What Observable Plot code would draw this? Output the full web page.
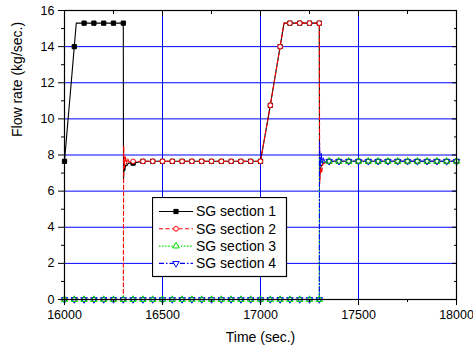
<!DOCTYPE html>
<html><head><meta charset="utf-8">
<script src="https://cdn.jsdelivr.net/npm/d3@7"></script>
<script src="https://cdn.jsdelivr.net/npm/@observablehq/plot@0.6"></script>
<style>
body{margin:0;background:#fff;}
#wrap{position:relative;width:473px;height:354px;}
#legend{position:absolute;left:152px;top:197px;}
</style></head><body><div id="wrap"></div>
<script>
// ---------- data ----------
const seriesNames = ["SG section 1", "SG section 2", "SG section 3", "SG section 4"];

const s1Time = [16000,16050,16060,16100,16150,16200,16250,16300,
  16301,16304,16308,16312,16318,16326,
  16350,16400,16450,16500,16550,16600,16650,16700,16750,16800,16850,16900,16950,
  17000,17050,17100,17120,17150,17200,17250,17300,
  17301,17305,17310,17318,17326,
  17350,17400,17450,17500,17550,17600,
  17650,17700,17750,17800,17850,17900,17950,18000];
const s1Flow = [7.65,14.0,15.3,15.3,15.3,15.3,15.3,15.3,
  6.65,7.35,7.15,7.45,7.4,7.55,
  7.55,7.65,7.65,7.65,7.65,7.65,7.65,7.65,7.65,7.65,7.65,7.65,7.65,
  7.65,10.75,14.0,15.3,15.3,15.3,15.3,15.3,
  6.6,7.2,7.4,7.5,7.6,
  7.65,7.65,7.65,7.65,7.65,7.65,
  7.65,7.65,7.65,7.65,7.65,7.65,7.65,7.65];

const s2Time = [16000,16050,16100,16150,16200,16250,16300,
  16302,16306,16311,16316,16322,16330,
  16350,16400,16450,16500,16550,16600,16650,16700,16750,16800,16850,16900,16950,17000,
  17050,17100,17120,17150,17200,17250,17300,
  17302,17307,17312,17318,17326,
  17350,17400,17450,17500,17550,17600,17650,17700,17750,17800,17850,17900,17950,18000];
const s2Flow = [0,0,0,0,0,0,0,
  8.5,7.3,7.95,7.5,7.8,7.6,
  7.65,7.65,7.65,7.65,7.65,7.65,7.65,7.65,7.65,7.65,7.65,7.65,7.65,7.65,
  10.75,14.0,15.3,15.3,15.3,15.3,15.3,
  6.4,7.3,7.0,7.5,7.55,
  7.65,7.65,7.65,7.65,7.65,7.65,7.65,7.65,7.65,7.65,7.65,7.65,7.65,7.65];

const s3Time = [16000,16050,16100,16150,16200,16250,16300,16350,16400,16450,16500,
  16550,16600,16650,16700,16750,16800,16850,16900,16950,17000,17050,17100,17150,
  17200,17250,17300,
  17301,17306,17312,17320,
  17350,17400,17450,17500,17550,17600,17650,17700,17750,17800,17850,17900,17950,18000];
const s3Flow = [0,0,0,0,0,0,0,0,0,0,0,
  0,0,0,0,0,0,0,0,0,0,0,0,0,
  0,0,0,
  7.9,7.5,7.7,7.6,
  7.65,7.65,7.65,7.65,7.65,7.65,7.65,7.65,7.65,7.65,7.65,7.65,7.65,7.65];

const s4Time = [16000,16050,16100,16150,16200,16250,16300,16350,16400,16450,16500,
  16550,16600,16650,16700,16750,16800,16850,16900,16950,17000,17050,17100,17150,
  17200,17250,17300,
  17301,17305,17310,17315,17321,17328,
  17350,17400,17450,17500,17550,17600,17650,17700,17750,17800,17850,17900,17950,18000];
const s4Flow = [0,0,0,0,0,0,0,0,0,0,0,
  0,0,0,0,0,0,0,0,0,0,0,0,0,
  0,0,0,
  8.7,7.35,8.1,7.5,7.85,7.6,
  7.65,7.65,7.65,7.65,7.65,7.65,7.65,7.65,7.65,7.65,7.65,7.65,7.65,7.65];

const xTicks = [16000, 16500, 17000, 17500, 18000];
const xMinor = [16250, 16750, 17250, 17750];
const yTicks = [0, 2, 4, 6, 8, 10, 12, 14, 16];
const yMinor = [1, 3, 5, 7, 9, 11, 13, 15];
const xGrid = [16500, 17000, 17500];
const yGrid = [2, 4, 6, 8, 10, 12, 14];
const xLabel = "Time (sec.)";
const yLabel = "Flow rate (kg/sec.)";

// ---------- rendering ----------
const sqrt3 = Math.sqrt(3);
const triangleDown = {
  draw(context, size) {
    const y = -Math.sqrt(size / (sqrt3 * 3));
    context.moveTo(0, -y * 2);
    context.lineTo(-sqrt3 * y, y);
    context.lineTo(sqrt3 * y, y);
    context.closePath();
  }
};

const toRows = (t, v) => t.map((time, i) => ({time, flow: v[i]}));
const series = [
  {rows: toRows(s1Time, s1Flow), stroke: "#000000", dash: null, symbol: d3.symbolSquare, fill: "#000000"},
  {rows: toRows(s2Time, s2Flow), stroke: "#ff0000", dash: "4,2.5", symbol: d3.symbolCircle, fill: "#ffffff"},
  {rows: toRows(s3Time, s3Flow), stroke: "#00dd00", dash: "1.5,1.6", symbol: d3.symbolTriangle, fill: "none"},
  {rows: toRows(s4Time, s4Flow), stroke: "#0000ff", dash: "5,2,1.5,2", symbol: triangleDown, fill: "none"}
];

const marks = [
  Plot.ruleX(xGrid, {stroke: "#0000ff", strokeWidth: 1}),
  Plot.ruleY(yGrid, {stroke: "#0000ff", strokeWidth: 1})
];
series.forEach(s => {
  marks.push(Plot.line(s.rows, {x: "time", y: "flow", stroke: s.stroke, strokeWidth: 1.1, strokeDasharray: s.dash}));
});
[0, 1, 3, 2].forEach(i => {
  const s = series[i];
  marks.push(Plot.dot(s.rows.filter(d => d.time % 50 === 0), {
    x: "time", y: "flow", symbol: s.symbol, r: i === 1 ? 2.3 : 2.4, stroke: s.stroke, fill: s.fill, strokeWidth: 1
  }));
});
marks.push(
  Plot.axisX({ticks: xTicks, tickSize: 6, tickPadding: 5, tickFormat: d3.format("d"), label: null}),
  Plot.axisX({ticks: xMinor, tickSize: 3, text: null, label: null}),
  Plot.axisX({anchor: "top", ticks: xTicks, tickSize: -5, text: null, label: null}),
  Plot.axisX({anchor: "top", ticks: xMinor, tickSize: -3, text: null, label: null}),
  Plot.axisY({ticks: yTicks, tickSize: 6, tickPadding: 4, label: null}),
  Plot.axisY({ticks: yMinor, tickSize: 3, text: null, label: null}),
  Plot.axisY({anchor: "right", ticks: yTicks, tickSize: -5, text: null, label: null}),
  Plot.axisY({anchor: "right", ticks: yMinor, tickSize: -3, text: null, label: null}),
  Plot.frame({stroke: "#000", strokeWidth: 1.2}),
  Plot.text([xLabel], {frameAnchor: "bottom", dy: 38, fontSize: 14, lineAnchor: "middle", fill: "#000"}),
  Plot.text([yLabel], {frameAnchor: "left", dx: -47, dy: -18, rotate: -90, fontSize: 14, lineAnchor: "middle", fill: "#000"})
);

const chart = Plot.plot({
  width: 473,
  height: 354,
  marginLeft: 64,
  marginRight: 17,
  marginTop: 10,
  marginBottom: 55,
  x: {domain: [16000, 18000]},
  y: {domain: [0, 16]},
  style: {fontFamily: "'Liberation Sans', Arial, sans-serif", fontSize: "12.5px", background: "#fff", color: "#000"},
  marks
});
const wrap = document.getElementById("wrap");
wrap.appendChild(chart);

// legend box (drawn inside the plot area, as in the reference)
const lg = d3.create("svg").attr("id", "legend").attr("width", 136).attr("height", 81)
  .style("font-family", "'Liberation Sans', Arial, sans-serif");
lg.append("rect").attr("x", 0.5).attr("y", 0.5).attr("width", 134).attr("height", 79)
  .attr("fill", "#fff").attr("stroke", "#000").attr("stroke-width", 1.2);
series.forEach((s, i) => {
  const cy = 14.5 + i * 17.3;
  lg.append("line").attr("x1", 7).attr("x2", 41).attr("y1", cy).attr("y2", cy)
    .attr("stroke", s.stroke).attr("stroke-width", 1.1).attr("stroke-dasharray", s.dash);
  lg.append("path").attr("transform", `translate(24,${cy})`)
    .attr("d", d3.symbol(s.symbol, Math.PI * 2.4 * 2.4)())
    .attr("fill", s.fill === "none" ? "#fff" : s.fill).attr("stroke", s.stroke);
  lg.append("text").attr("x", 44).attr("y", cy).attr("dy", "0.35em")
    .attr("font-size", 14).attr("fill", "#000").text(seriesNames[i]);
});
wrap.appendChild(lg.node());
</script></body></html>
